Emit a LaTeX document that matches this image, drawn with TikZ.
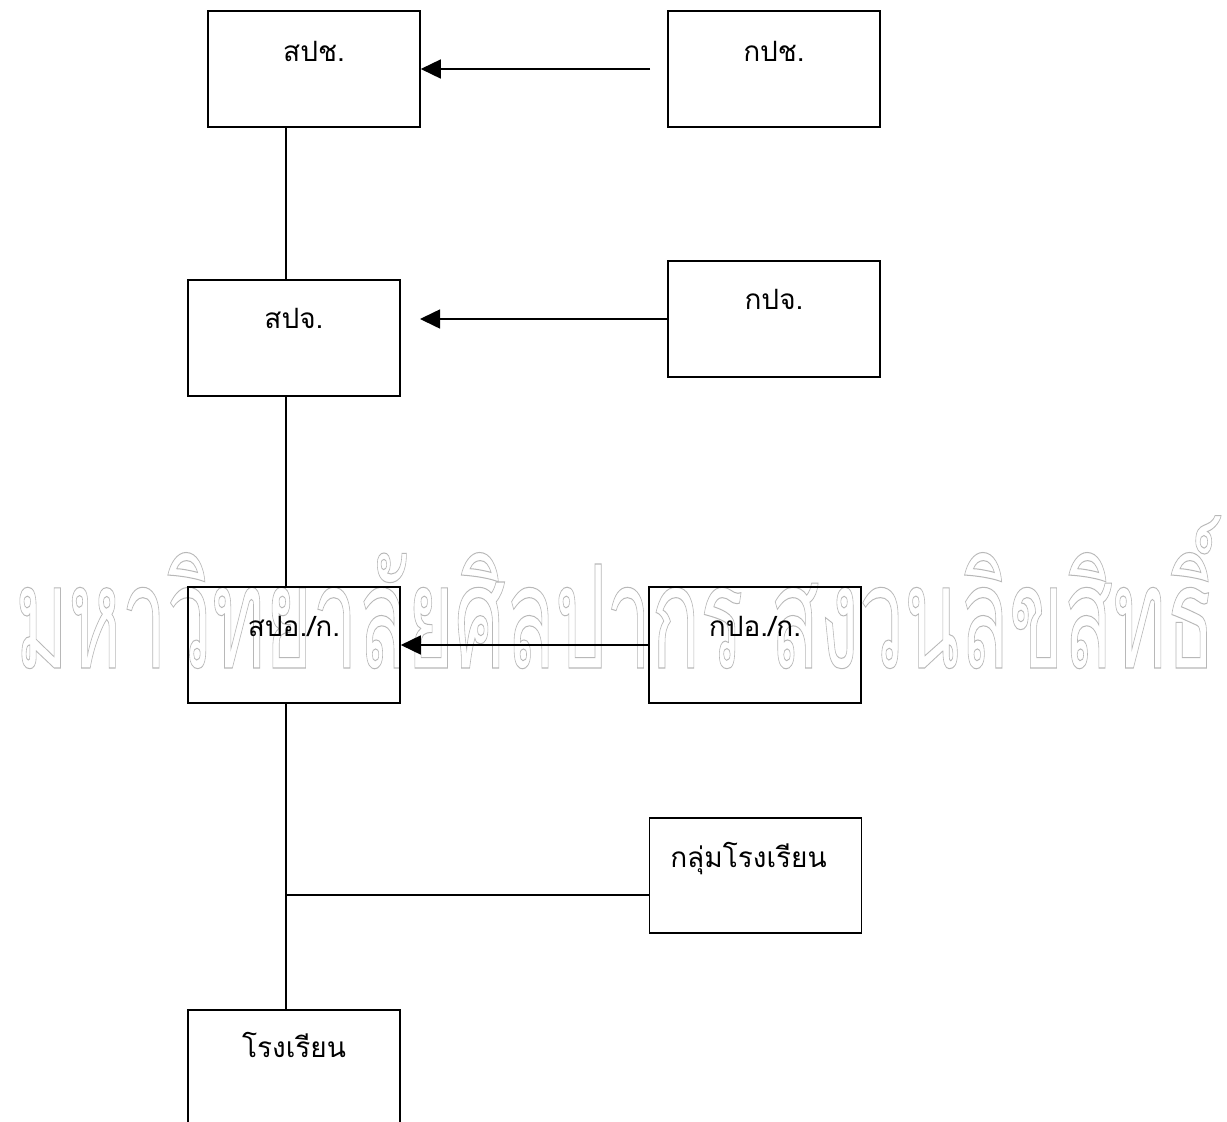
\documentclass[tikz,border=0pt]{standalone}
\usepackage{fontspec}
\newfontfamily\thaifont[Script=Thai]{Loma}
\usetikzlibrary{arrows.meta,calc}
\newcommand{\outlinetext}[1]{\special{pdf:literal direct q 1 Tr 0.72 G 1.1 w}#1\special{pdf:literal direct Q}}
\begin{document}
\begin{tikzpicture}[x=1pt,y=-1pt,
  box/.style={draw=black,line width=1.6pt,minimum width=212pt,minimum height=116pt,inner sep=0pt},
  lbl/.style={anchor=base,inner sep=0pt,font=\thaifont\fontsize{28}{30}\selectfont},
  conn/.style={line width=1.6pt},
  arr/.style={line width=1.6pt,-{Triangle[length=20pt,width=19pt]}}]
\clip (0,0) rectangle (1227,1122);
\fill[white] (0,0) rectangle (1227,1122);
% watermark
\node[anchor=base west,inner sep=0pt] (wm) at (15,668)
  {\resizebox{1200pt}{!}{\scalebox{0.56}[1]{\fontsize{155}{160}\thaifont\outlinetext{มหาวิทยาลัยศิลปากร สงวนลิขสิทธิ์}}}};
% boxes
\node[box] (spc) at (314,69) {};
\node[box] (kpc) at (774,69) {};
\node[box] (spj) at (294,338) {};
\node[box] (kpj) at (774,319) {};
\node[box] (spo) at (294,645) {};
\node[box] (kpo) at (755,645) {};
\node[box,minimum height=115pt] (klum) at (755.5,875.5) {};
\node[box] (rr) at (294,1068) {};
% labels
\node[lbl] (spc-t) at ($(spc.north)+(0,51)$) {สปช.};
\node[lbl] (kpc-t) at ($(kpc.north)+(0,51)$) {กปช.};
\node[lbl] (spj-t) at ($(spj.north)+(0,49)$) {สปจ.};
\node[lbl] (kpj-t) at ($(kpj.north)+(0,49)$) {กปจ.};
\node[lbl] (spo-t) at ($(spo.north)+(0,50)$) {สปอ./ก.};
\node[lbl] (kpo-t) at ($(kpo.north)+(0,50)$) {กปอ./ก.};
\node[lbl] (klum-t) at ($(klum.north)+(-7,50)$) {กลุ่มโรงเรียน};
\node[lbl] (rr-t) at ($(rr.north)+(0,48)$) {โรงเรียน};
% spine
\coordinate (vx) at (286,0);
\coordinate (j) at (286,895);
\draw[conn] (vx |- spc.south) -- (vx |- spj.north);
\draw[conn] (vx |- spj.south) -- (vx |- spo.north);
\draw[conn] (vx |- spo.south) -- (vx |- rr.north);
\draw[conn] (j) -- (j -| klum.west);
% arrows
\coordinate (a1) at (650,69);
\draw[arr] (a1) -- (spc.east);
\coordinate (t2) at (420,319);
\draw[arr] (kpj.west) -- (t2);
\draw[arr] (kpo.west) -- (spo.east);
\end{tikzpicture}
\end{document}
